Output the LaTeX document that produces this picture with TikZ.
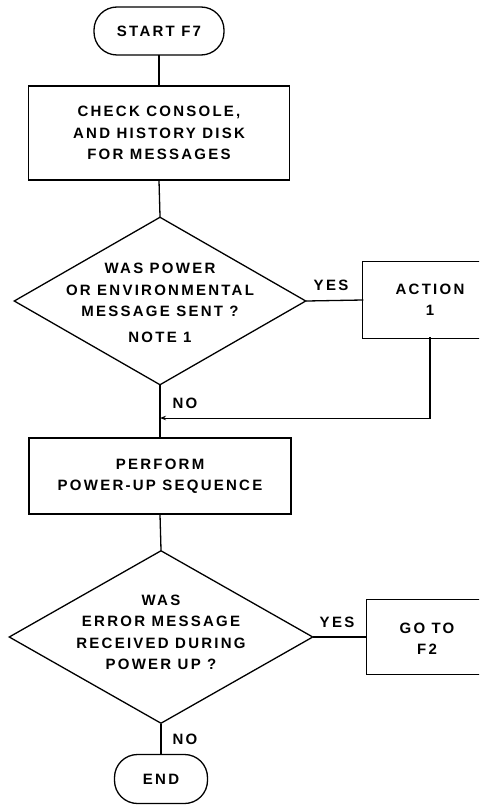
\documentclass[tikz,border=0pt]{standalone}
\usepackage{fontspec}
\newfontfamily\flowfont[LetterSpace=15]{Liberation Sans}
\usetikzlibrary{shapes.geometric,arrows.meta}

\tikzset{
  flow/.style={line width=1.3pt, line cap=rect},
  txt/.style={font=\flowfont\bfseries\fontsize{15pt}{21.5pt}\selectfont, align=center, inner sep=0pt},
  terminal/.style={draw, line width=1.3pt, rounded corners=23pt, inner sep=0pt},
  procbox/.style={draw, line width=1.3pt, rectangle, inner sep=0pt},
  openbox/.style={rectangle, inner sep=0pt},
  decision/.style={draw, line width=1.3pt, diamond, inner sep=0pt},
  tip/.style={-{Stealth[length=6pt,width=4.5pt]}}
}

\begin{document}
\begin{tikzpicture}[x=1pt,y=-1pt]
\useasboundingbox (0,0) rectangle (479,805);
\clip (0,0) rectangle (479,805);

% terminals
\node[terminal, minimum width=130pt, minimum height=48pt] (start) at (159,31) {};
\node[txt] (startT) at (start.center) {START F7};

\node[terminal, minimum width=93pt, minimum height=49pt] (finish) at (161,779) {};
\node[txt] (finishT) at (finish.center) {END};

% process boxes
\node[procbox, minimum width=261pt, minimum height=94pt] (check) at (159,133) {};
\node[txt] (checkT) at (check.center) {CHECK CONSOLE,\\AND HISTORY DISK\\FOR MESSAGES};

\node[procbox, minimum width=262pt, minimum height=76pt] (perform) at (160,476) {};
\node[txt] (performT) at (perform.center) {PERFORM\\POWER-UP SEQUENCE};

% boxes that continue past the right margin: only three sides drawn
\node[openbox, minimum width=140pt, minimum height=76pt] (action) at (433,300) {};
\draw[flow] (action.north east) -- (action.north west) -- (action.south west) -- (action.south east);
\node[txt] (actionT) at (430,300) {ACTION\\1};

\node[openbox, minimum width=140pt, minimum height=74pt] (goto) at (437,637) {};
\draw[flow] (goto.north east) -- (goto.north west) -- (goto.south west) -- (goto.south east);
\node[txt] (gotoT) at (427,639) {GO TO\\F2};

% decisions
\node[decision, minimum width=292pt, minimum height=168pt] (dec1) at (160,301) {};
\node[txt] (dec1T) at (160,290) {WAS POWER\\OR ENVIRONMENTAL\\MESSAGE SENT ?};
\node[txt] (note) at (160,337) {NOTE 1};

\node[decision, minimum width=304pt, minimum height=173pt] (dec2) at (161,637) {};
\node[txt] (dec2T) at (161,632.5) {WAS\\ERROR MESSAGE\\RECEIVED DURING\\POWER UP ?};

% branch labels
\node[txt] (yes1) at (331,285) {YES};
\node[txt] (no1) at (185,403) {NO};
\node[txt] (yes2) at (337,622) {YES};
\node[txt] (no2) at (185,739) {NO};

% connectors
\draw[flow] (start.south) -- (check.north);
\draw[flow] (check.south) -- (dec1.north);
\draw[flow] (dec1.south) -- (perform.north);
\draw[flow] (dec1.east) -- (action.west);
\coordinate (ret) at (430,418);
\coordinate (merge) at (dec1.south |- ret);
\draw[flow] (430,338) -- (ret);
\draw[line width=1pt, tip] (ret) -- (merge);
\draw[flow] (perform.south) -- (dec2.north);
\draw[flow] (dec2.east) -- (goto.west);
\draw[flow] (dec2.south) -- (finish.north);
\end{tikzpicture}
\end{document}
